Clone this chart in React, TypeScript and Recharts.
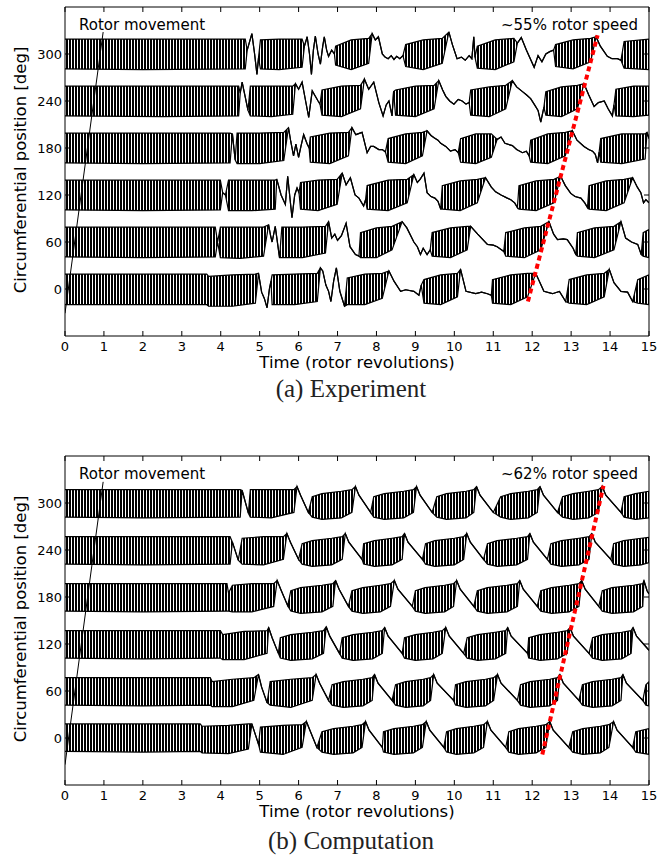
import React from "react";
import { ComposedChart, Area, Line, XAxis, YAxis } from "recharts";

const revolutionTicks = [0, 1, 2, 3, 4, 5, 6, 7, 8, 9, 10, 11, 12, 13, 14, 15];
const positionTicks = [0, 60, 120, 180, 240, 300];
const traceBaselines = [0, 60, 120, 180, 240, 300];

// Points are [revolution, offset] on a plain stretch of trace, or
// [revolution, low, high] where the probe signal oscillates as a band.
// Offsets are degrees relative to the probe's circumferential position.

const expTrace0 = [
  [0, -20, 19], [2, -20, 19], [3.64, -20, 19],
  [3.69, -22, 16], [4.3, -22, 18], [4.89, -18, 19],
  [4.97, 20], [5.05, -4], [5.12, -12], [5.19, -24], [5.25, 0], [5.29, 10],
  [5.32, -20, 18], [5.9, -20, 19], [6.48, -16, 20],
  [6.56, 27], [6.62, 23], [6.7, 5], [6.77, -3], [6.83, -16], [6.9, 10], [6.97, 27], [7.06, -3], [7.18, -22],
  [7.25, -20, 14], [7.7, -20, 19], [8.15, -12, 20],
  [8.32, 23], [8.45, 10], [8.62, -3], [8.75, -1], [8.96, -3], [9.09, -8], [9.15, 5],
  [9.22, -18, 12], [9.65, -20, 18], [10.08, -10, 20],
  [10.16, 25], [10.3, -3], [10.55, -6], [10.7, -4], [10.85, -6], [10.95, -8],
  [10.98, -18, 12], [11.45, -20, 18], [11.88, -10, 20],
  [12.09, 20], [12.3, -3], [12.52, -6], [12.7, -3], [12.86, -16],
  [12.95, -18, 12], [13.4, -20, 18], [13.85, -10, 20],
  [13.98, 25], [14.1, 8], [14.28, -3], [14.45, -4], [14.58, -16],
  [14.71, -18, 12], [15, -20, 18],
];

const expTrace60 = [
  [0, -19, 19], [2, -20, 19], [3.86, -19, 19],
  [3.92, 0],
  [3.99, -20, 19], [4.5, -21, 19], [5.1, -18, 19],
  [5.23, 22], [5.28, 8], [5.32, 0], [5.4, 20], [5.51, -20],
  [5.57, -20, 19], [6.1, -20, 19], [6.69, -14, 20],
  [6.77, 26], [6.85, 5], [6.93, 10], [7.0, 2], [7.1, 8], [7.22, 24], [7.32, -6], [7.46, -16], [7.55, -18],
  [7.59, -20, 12], [8.0, -20, 18], [8.4, -10, 20],
  [8.66, 26], [8.78, 18], [8.96, 0], [9.05, -6], [9.13, -16], [9.2, -8], [9.3, -16], [9.38, -10],
  [9.43, -18, 12], [9.9, -20, 18], [10.33, -10, 20],
  [10.42, 20], [10.6, 10], [10.85, -3], [11.0, -4], [11.1, -6], [11.27, -12],
  [11.32, -18, 12], [11.8, -20, 18], [12.22, -10, 20],
  [12.43, 26], [12.55, 10], [12.65, 3], [12.8, 4], [12.9, 3], [13.05, -8], [13.12, -16],
  [13.16, -18, 12], [13.6, -20, 18], [14.1, -10, 20],
  [14.28, 26], [14.4, 5], [14.55, 0], [14.71, -3], [14.8, -16],
  [14.85, -18, 12], [15, -20, 16],
];

const expTrace120 = [
  [0, -19, 19], [2, -20, 19], [3.99, -19, 19],
  [4.05, 3], [4.12, 0],
  [4.2, -20, 19], [4.8, -20, 19], [5.4, -18, 19],
  [5.44, 20], [5.55, 0], [5.66, -12], [5.72, 24], [5.83, -29], [5.9, 0], [5.96, 9], [6.01, 3],
  [6.05, -18, 16], [6.5, -20, 19], [6.99, -12, 20],
  [7.12, 28], [7.22, 13], [7.33, 22], [7.45, 0], [7.55, -4], [7.67, -14], [7.72, -6],
  [7.76, -18, 12], [8.3, -20, 19], [8.79, -10, 20],
  [8.96, 26], [9.05, 16], [9.12, 20], [9.22, 28], [9.3, 3], [9.4, -2], [9.5, -4], [9.58, -8], [9.65, -18],
  [9.69, -18, 12], [10.15, -20, 18], [10.59, -10, 20],
  [10.8, 22], [10.95, 10], [11.06, 4], [11.2, 0], [11.36, -4], [11.45, -6], [11.55, -10], [11.62, -16],
  [11.66, -18, 12], [12.1, -20, 18], [12.56, -10, 20],
  [12.73, 24], [12.85, 12], [12.99, 2], [13.1, -2], [13.25, -4], [13.35, -10], [13.42, -16],
  [13.46, -18, 12], [13.9, -20, 18], [14.36, -10, 20],
  [14.58, 22], [14.7, 10], [14.79, 3], [14.86, -10], [14.92, -6], [15, -10],
];

const expTrace180 = [
  [0, -19, 19], [2, -20, 19], [4.24, -19, 19],
  [4.3, 18], [4.37, -15],
  [4.42, -20, 19], [5.0, -20, 19], [5.62, -16, 20],
  [5.74, 26], [5.8, 8], [5.87, -10], [5.93, 5], [6.0, -12], [6.06, 2], [6.13, 17], [6.22, 5], [6.27, 0],
  [6.3, -18, 14], [6.8, -20, 19], [7.28, -10, 20],
  [7.37, 26], [7.47, 17], [7.63, 20], [7.76, -6], [7.85, 2], [7.93, 2], [8.06, -2], [8.15, -2], [8.23, -5],
  [8.3, -18, 12], [8.75, -20, 18], [9.18, -10, 20],
  [9.3, 22], [9.4, 16], [9.48, 13], [9.58, 10], [9.65, 6], [9.78, 2], [9.9, -4], [10.02, -2], [10.1, -6],
  [10.16, -18, 12], [10.55, -20, 18], [10.95, -12, 18],
  [11.1, 11], [11.2, 14], [11.3, 6], [11.49, 3], [11.6, -2], [11.75, -6], [11.85, -4], [11.92, -10],
  [11.96, -18, 10], [12.4, -20, 18], [12.85, -10, 20],
  [13.03, 22], [13.15, 10], [13.33, 2], [13.45, -2], [13.55, -4], [13.62, -8], [13.68, -19], [13.72, -5],
  [13.76, -18, 12], [14.3, -20, 18], [14.9, -14, 18], [14.95, 20], [15, 12],
];

const expTrace240 = [
  [0, -19, 19], [2.5, -20, 19], [4.46, -19, 19],
  [4.5, 10], [4.55, 24], [4.63, 5], [4.7, -12],
  [4.76, -19, 19], [5.3, -20, 19], [5.85, -17, 19],
  [5.92, 22], [6.0, 15], [6.09, 24], [6.18, 0], [6.26, -21], [6.35, 13], [6.43, 6], [6.5, 0], [6.55, -4],
  [6.6, -18, 14], [7.1, -20, 19], [7.59, -10, 20],
  [7.69, 28], [7.8, 15], [7.93, 24], [8.06, -2], [8.17, -19], [8.25, -5], [8.32, 0], [8.4, -19], [8.44, 12],
  [8.49, -18, 14], [9.0, -20, 19], [9.48, -10, 20],
  [9.6, 26], [9.7, 14], [9.78, 6], [9.88, 0], [9.99, -4], [10.1, 2], [10.2, 0], [10.3, -4], [10.38, -2],
  [10.42, -18, 14], [10.9, -20, 18], [11.32, -10, 20],
  [11.49, 26], [11.6, 18], [11.75, 12], [11.85, 8], [11.96, 3], [12.05, -4], [12.15, -12], [12.22, -27], [12.3, -8],
  [12.35, -18, 12], [12.75, -20, 18], [13.16, -10, 20],
  [13.33, 22], [13.45, 8], [13.59, -7], [13.7, -2], [13.85, 0], [13.95, -10], [14.06, -19], [14.1, -5],
  [14.15, -19, 15], [14.6, -20, 19], [15, -18, 19],
];

const expTrace300 = [
  [0, -19, 19], [2, -20, 19], [4.63, -19, 19],
  [4.68, 5], [4.8, 26], [4.87, 0], [4.93, -26], [4.97, -5],
  [5.02, -19, 18], [5.5, -20, 19], [6.09, -17, 19],
  [6.15, 10], [6.22, 22], [6.28, 0], [6.33, -26], [6.38, 5], [6.43, 23], [6.5, 0], [6.56, -13], [6.62, 10],
  [6.66, 22], [6.72, 5], [6.77, -3], [6.85, 5], [6.92, 0],
  [6.95, -14, 10], [7.35, -20, 18], [7.8, -12, 20],
  [7.89, 26], [7.97, 18], [8.05, 22], [8.15, 0], [8.22, -4], [8.3, -6], [8.38, -2], [8.45, -7], [8.52, -3],
  [8.6, -6], [8.68, -2],
  [8.75, -16, 12], [9.2, -20, 18], [9.69, -12, 20],
  [9.86, 28], [9.95, 12], [10.07, -6], [10.18, -4], [10.28, -8], [10.38, -2], [10.45, -6], [10.5, 22], [10.53, -4],
  [10.59, -18, 10], [11.05, -20, 18], [11.53, -10, 20],
  [11.62, 14], [11.72, 21], [11.85, 5], [12.05, -17], [12.15, -2], [12.25, -10], [12.35, 0], [12.45, 3], [12.55, 5],
  [12.6, -16, 12], [13.05, -19, 18], [13.5, -10, 20],
  [13.64, 22], [13.75, 10], [13.93, -3], [14.05, -6], [14.19, -6], [14.28, -8],
  [14.36, -18, 16], [15, -20, 19],
];

const compTrace0 = [
  [0, -17, 18], [2, -18, 18], [3.47, -17, 18],
  [3.52, -19, 15], [4.2, -20, 16], [4.71, -14, 18],
  [4.8, 18], [4.97, -8],
  [5.02, -18, 14], [5.6, -21, 16], [6.09, -12, 17],
  [6.2, 21], [6.29, 10], [6.47, -12],
  [6.6, -18, 8], [6.9, -21, 12], [7.4, -19, 15], [7.63, -12, 17],
  [7.72, 21], [7.81, 10], [8.15, -12],
  [8.18, -18, 8], [8.45, -21, 12], [8.95, -19, 15], [9.18, -12, 17],
  [9.28, 21], [9.37, 10], [9.73, -12],
  [9.8, -18, 8], [10.05, -21, 12], [10.5, -19, 15], [10.75, -12, 17],
  [10.85, 21], [10.94, 10], [11.32, -12],
  [11.4, -18, 8], [11.65, -21, 12], [12.1, -19, 15], [12.35, -12, 17],
  [12.45, 21], [12.54, 10], [12.94, -12],
  [13.04, -18, 8], [13.3, -21, 12], [13.75, -19, 15], [13.97, -12, 17],
  [14.09, 21], [14.18, 10], [14.58, -12],
  [14.66, -18, 8], [15, -21, 12],
];

const compTrace60 = [
  [0, -18, 17], [2, -19, 17], [3.73, -18, 17],
  [3.78, -20, 12], [4.3, -20, 15], [4.85, -12, 17],
  [4.97, 21], [5.05, 5], [5.19, -15],
  [5.27, -18, 12], [5.8, -21, 15], [6.35, -12, 17],
  [6.45, 21], [6.54, 10], [6.77, -12],
  [6.86, -18, 8], [7.15, -21, 12], [7.65, -19, 15], [7.89, -12, 17],
  [7.95, 21], [8.04, 10], [8.4, -12],
  [8.49, -18, 8], [8.75, -21, 12], [9.2, -19, 15], [9.39, -12, 17],
  [9.47, 21], [9.56, 10], [9.98, -12],
  [10.03, -18, 8], [10.3, -21, 12], [10.8, -19, 15], [11.01, -12, 17],
  [11.11, 21], [11.2, 10], [11.62, -12],
  [11.7, -18, 8], [11.95, -21, 12], [12.45, -19, 15], [12.65, -12, 17],
  [12.71, 21], [12.8, 10], [13.2, -12],
  [13.29, -18, 8], [13.55, -21, 12], [14.05, -19, 15], [14.28, -12, 17],
  [14.33, 21], [14.42, 10], [14.84, -12],
  [14.92, -18, 8], [15, -19, 12],
];

const compTrace120 = [
  [0, -18, 17], [2, -19, 17], [3.99, -18, 17],
  [4.05, -20, 12], [4.6, -20, 16], [5.19, -12, 17],
  [5.23, 21], [5.32, 8], [5.48, -12],
  [5.53, -18, 8], [5.8, -21, 12], [6.35, -19, 15], [6.64, -12, 17],
  [6.71, 22], [6.8, 10], [7.05, -12],
  [7.12, -18, 8], [7.4, -21, 12], [7.9, -19, 15], [8.15, -12, 17],
  [8.21, 21], [8.3, 10], [8.66, -12],
  [8.72, -18, 8], [9.0, -21, 12], [9.45, -19, 15], [9.69, -12, 17],
  [9.78, 21], [9.87, 10], [10.24, -12],
  [10.33, -18, 8], [10.6, -21, 12], [11.05, -19, 15], [11.32, -12, 17],
  [11.37, 21], [11.46, 10], [11.88, -12],
  [11.91, -18, 8], [12.2, -21, 12], [12.65, -19, 15], [12.9, -12, 17],
  [12.97, 21], [13.06, 10], [13.46, -12],
  [13.55, -18, 8], [13.8, -21, 12], [14.3, -19, 15], [14.54, -12, 17],
  [14.59, 21], [14.68, 10], [15, -8],
];

const compTrace180 = [
  [0, -18, 17], [2, -19, 17], [4.16, -18, 17],
  [4.2, -18, 5], [4.3, -19, 15], [4.8, -19, 17], [5.36, -12, 17],
  [5.45, 21], [5.54, 10], [5.72, -11],
  [5.8, -18, 8], [6.05, -21, 12], [6.6, -19, 15], [6.88, -12, 17],
  [6.95, 21], [7.04, 10], [7.28, -12],
  [7.37, -18, 8], [7.65, -21, 12], [8.1, -19, 15], [8.36, -12, 17],
  [8.46, 21], [8.55, 10], [8.92, -12],
  [9.0, -18, 8], [9.25, -21, 12], [9.75, -19, 15], [9.98, -12, 17],
  [10.06, 21], [10.15, 10], [10.5, -12],
  [10.59, -18, 8], [10.85, -21, 12], [11.35, -19, 15], [11.62, -12, 17],
  [11.68, 21], [11.77, 10], [12.13, -12],
  [12.22, -18, 8], [12.5, -21, 12], [12.95, -19, 15], [13.2, -12, 17],
  [13.27, 21], [13.36, 10], [13.71, -12],
  [13.8, -18, 8], [14.05, -21, 12], [14.6, -19, 15], [14.84, -12, 17],
  [14.87, 21], [14.95, 8], [15, 4],
];

const compTrace240 = [
  [0, -18, 17], [2, -19, 17], [4.24, -18, 17],
  [4.3, 10], [4.45, -13],
  [4.55, -18, 15], [5.1, -19, 17], [5.61, -12, 17],
  [5.7, 21], [5.79, 10], [6.0, -12],
  [6.09, -18, 8], [6.35, -21, 12], [6.85, -19, 15], [7.12, -12, 17],
  [7.2, 21], [7.29, 10], [7.63, -12],
  [7.67, -18, 8], [7.95, -21, 12], [8.4, -19, 15], [8.66, -12, 17],
  [8.72, 21], [8.81, 10], [9.18, -12],
  [9.26, -18, 8], [9.5, -21, 12], [10.0, -19, 15], [10.24, -12, 17],
  [10.32, 21], [10.41, 10], [10.75, -12],
  [10.85, -18, 8], [11.1, -21, 12], [11.6, -19, 15], [11.88, -12, 17],
  [11.94, 21], [12.03, 10], [12.39, -12],
  [12.48, -18, 8], [12.75, -21, 12], [13.2, -19, 15], [13.46, -12, 17],
  [13.53, 21], [13.62, 10], [14.02, -12],
  [14.09, -18, 8], [14.35, -21, 12], [14.8, -19, 15], [15, -16, 16],
];

const compTrace300 = [
  [0, -18, 17], [2, -19, 17], [4.5, -18, 17],
  [4.55, 16], [4.71, -13],
  [4.76, -18, 17], [5.3, -19, 17], [5.88, -12, 17],
  [5.96, 21], [6.05, 10], [6.25, -12],
  [6.35, -18, 8], [6.6, -21, 12], [7.1, -19, 15], [7.37, -12, 17],
  [7.46, 21], [7.55, 10], [7.85, -12],
  [7.93, -18, 8], [8.2, -21, 12], [8.7, -19, 15], [8.95, -12, 17],
  [9.03, 21], [9.12, 10], [9.43, -12],
  [9.55, -18, 8], [9.8, -21, 12], [10.3, -19, 15], [10.5, -12, 17],
  [10.57, 21], [10.66, 10], [11.0, -12],
  [11.19, -18, 8], [11.45, -21, 12], [11.9, -19, 15], [12.13, -12, 17],
  [12.2, 21], [12.29, 10], [12.65, -12],
  [12.78, -18, 8], [13.05, -21, 12], [13.45, -19, 15], [13.7, -12, 17],
  [13.8, 21], [13.89, 10], [14.28, -12],
  [14.36, -18, 8], [14.65, -21, 12], [15, -19, 15],
];

// straight guide lines: [revolution, degrees]
const expRotorLine = [[0, -31], [0.98, 328]];
const expSpeedLine = [[11.89, -16], [13.68, 324]];
const compRotorLine = [[0, -34], [0.98, 327]];
const compSpeedLine = [[12.26, -21], [13.83, 322]];

const W = 659;
const H = 372;
const SANS = "DejaVu Sans, sans-serif";

const toRows = (pts: number[][], base: number) =>
  pts.map((p) => ({
    t: p[0],
    lo: base + p[1],
    hi: base + (p.length > 2 ? p[2] : p[1]),
  }));

const toLine = (pts: number[][]) => pts.map((p) => ({ t: p[0], v: p[1] }));

const BottomTick = (props: any) => {
  const { x, y, payload } = props;
  return (
    <g>
      <line x1={x} y1={y} x2={x} y2={y - 5} stroke="#000" />
      <text x={x} y={y + 14.5} textAnchor="middle" fontSize={13} fontFamily={SANS} fill="#000">
        {payload.value}
      </text>
    </g>
  );
};

const TopTick = (props: any) => {
  const { x, y } = props;
  return <line x1={x} y1={y} x2={x} y2={y + 5} stroke="#000" />;
};

const LeftTick = (props: any) => {
  const { x, y, payload } = props;
  return (
    <g>
      <line x1={x} y1={y} x2={x + 5} y2={y} stroke="#000" />
      <text x={x - 3} y={y + 4.7} textAnchor="end" fontSize={13} fontFamily={SANS} fill="#000">
        {payload.value}
      </text>
    </g>
  );
};

const RightTick = (props: any) => {
  const { x, y } = props;
  return <line x1={x} y1={y} x2={x - 5} y2={y} stroke="#000" />;
};

interface PanelProps {
  id: string;
  top: number;
  traces: number[][][];
  rotor: number[][];
  speed: number[][];
  speedLabel: string;
  caption: string;
  captionY: number;
}

const Panel = ({ id, top, traces, rotor, speed, speedLabel, caption, captionY }: PanelProps) => {
  const series = traces.map((pts, i) => toRows(pts, traceBaselines[i]));
  return (
    <div style={{ position: "absolute", left: 0, top, width: W, height: 400 }}>
      <ComposedChart width={W} height={H} margin={{ top: 3, right: 5, bottom: 6, left: 25 }}>
        <defs>
          {/* dense vertical hatching stands in for the fast blade-passing oscillation */}
          <pattern id={`hatch-${id}`} patternUnits="userSpaceOnUse" width={3} height={12}>
            <rect x={0} y={0} width={2} height={12} fill="#000" />
          </pattern>
        </defs>
        <XAxis
          dataKey="t"
          type="number"
          domain={[0, 15]}
          ticks={revolutionTicks}
          allowDataOverflow
          height={30}
          tickSize={0}
          tickMargin={0}
          tickLine={false}
          tick={<BottomTick />}
          axisLine={{ stroke: "#000" }}
          interval={0}
        />
        <XAxis
          xAxisId="top"
          orientation="top"
          dataKey="t"
          type="number"
          domain={[0, 15]}
          ticks={revolutionTicks}
          allowDataOverflow
          height={4}
          tickSize={0}
          tickMargin={0}
          tickLine={false}
          tick={<TopTick />}
          axisLine={{ stroke: "#000" }}
          interval={0}
        />
        <YAxis
          type="number"
          domain={[-60, 360]}
          ticks={positionTicks}
          allowDataOverflow
          width={40}
          tickSize={0}
          tickMargin={0}
          tickLine={false}
          tick={<LeftTick />}
          axisLine={{ stroke: "#000" }}
          interval={0}
        />
        <YAxis
          yAxisId="right"
          orientation="right"
          type="number"
          domain={[-60, 360]}
          ticks={positionTicks}
          allowDataOverflow
          width={5}
          tickSize={0}
          tickMargin={0}
          tickLine={false}
          tick={<RightTick />}
          axisLine={{ stroke: "#000" }}
          interval={0}
        />
        {series.map((rows, i) => (
          <Area
            key={i}
            data={rows}
            dataKey={(d: any) => [d.lo, d.hi]}
            type="linear"
            stroke="#000"
            strokeWidth={1.2}
            fill={`url(#hatch-${id})`}
            fillOpacity={1}
            dot={false}
            activeDot={false}
            isAnimationActive={false}
          />
        ))}
        <Line
          data={toLine(rotor)}
          dataKey="v"
          type="linear"
          stroke="#000"
          strokeWidth={1}
          dot={false}
          activeDot={false}
          isAnimationActive={false}
        />
        <Line
          data={toLine(speed)}
          dataKey="v"
          type="linear"
          stroke="#ff0000"
          strokeWidth={4}
          strokeDasharray="5 3.5"
          dot={false}
          activeDot={false}
          isAnimationActive={false}
        />
      </ComposedChart>
      <div
        style={{
          position: "absolute", left: 79, top: 25, transform: "translateY(-50%)",
          fontFamily: SANS, fontSize: 15, lineHeight: 1, whiteSpace: "nowrap", color: "#000",
        }}
      >
        Rotor movement
      </div>
      <div
        style={{
          position: "absolute", right: W - 638, top: 25, transform: "translateY(-50%)",
          fontFamily: SANS, fontSize: 15, lineHeight: 1, whiteSpace: "nowrap", color: "#000",
        }}
      >
        {speedLabel}
      </div>
      <div
        style={{
          position: "absolute", left: 21, top: 170, transform: "translate(-50%, -50%) rotate(-90deg)",
          fontFamily: SANS, fontSize: 16.5, lineHeight: 1, whiteSpace: "nowrap", color: "#000",
        }}
      >
        Circumferential position [deg]
      </div>
      <div
        style={{
          position: "absolute", left: 357, top: 362.7, transform: "translate(-50%, -50%)",
          fontFamily: SANS, fontSize: 16.5, lineHeight: 1, whiteSpace: "nowrap", color: "#000",
        }}
      >
        Time (rotor revolutions)
      </div>
      <div
        style={{
          position: "absolute", left: 351, top: captionY, transform: "translate(-50%, -50%)",
          fontFamily: "Liberation Serif, serif", fontSize: 25, lineHeight: 1, whiteSpace: "nowrap", color: "#222",
        }}
      >
        {caption}
      </div>
    </div>
  );
};

export default function App() {
  return (
    <div style={{ position: "absolute", left: 0, top: 0, width: W, height: 858, background: "#fff" }}>
      <Panel
        id="exp"
        top={0}
        traces={[expTrace0, expTrace60, expTrace120, expTrace180, expTrace240, expTrace300]}
        rotor={expRotorLine}
        speed={expSpeedLine}
        speedLabel="~55% rotor speed"
        caption="(a) Experiment"
        captionY={388}
      />
      <Panel
        id="comp"
        top={449}
        traces={[compTrace0, compTrace60, compTrace120, compTrace180, compTrace240, compTrace300]}
        rotor={compRotorLine}
        speed={compSpeedLine}
        speedLabel="~62% rotor speed"
        caption="(b) Computation"
        captionY={391}
      />
    </div>
  );
}
